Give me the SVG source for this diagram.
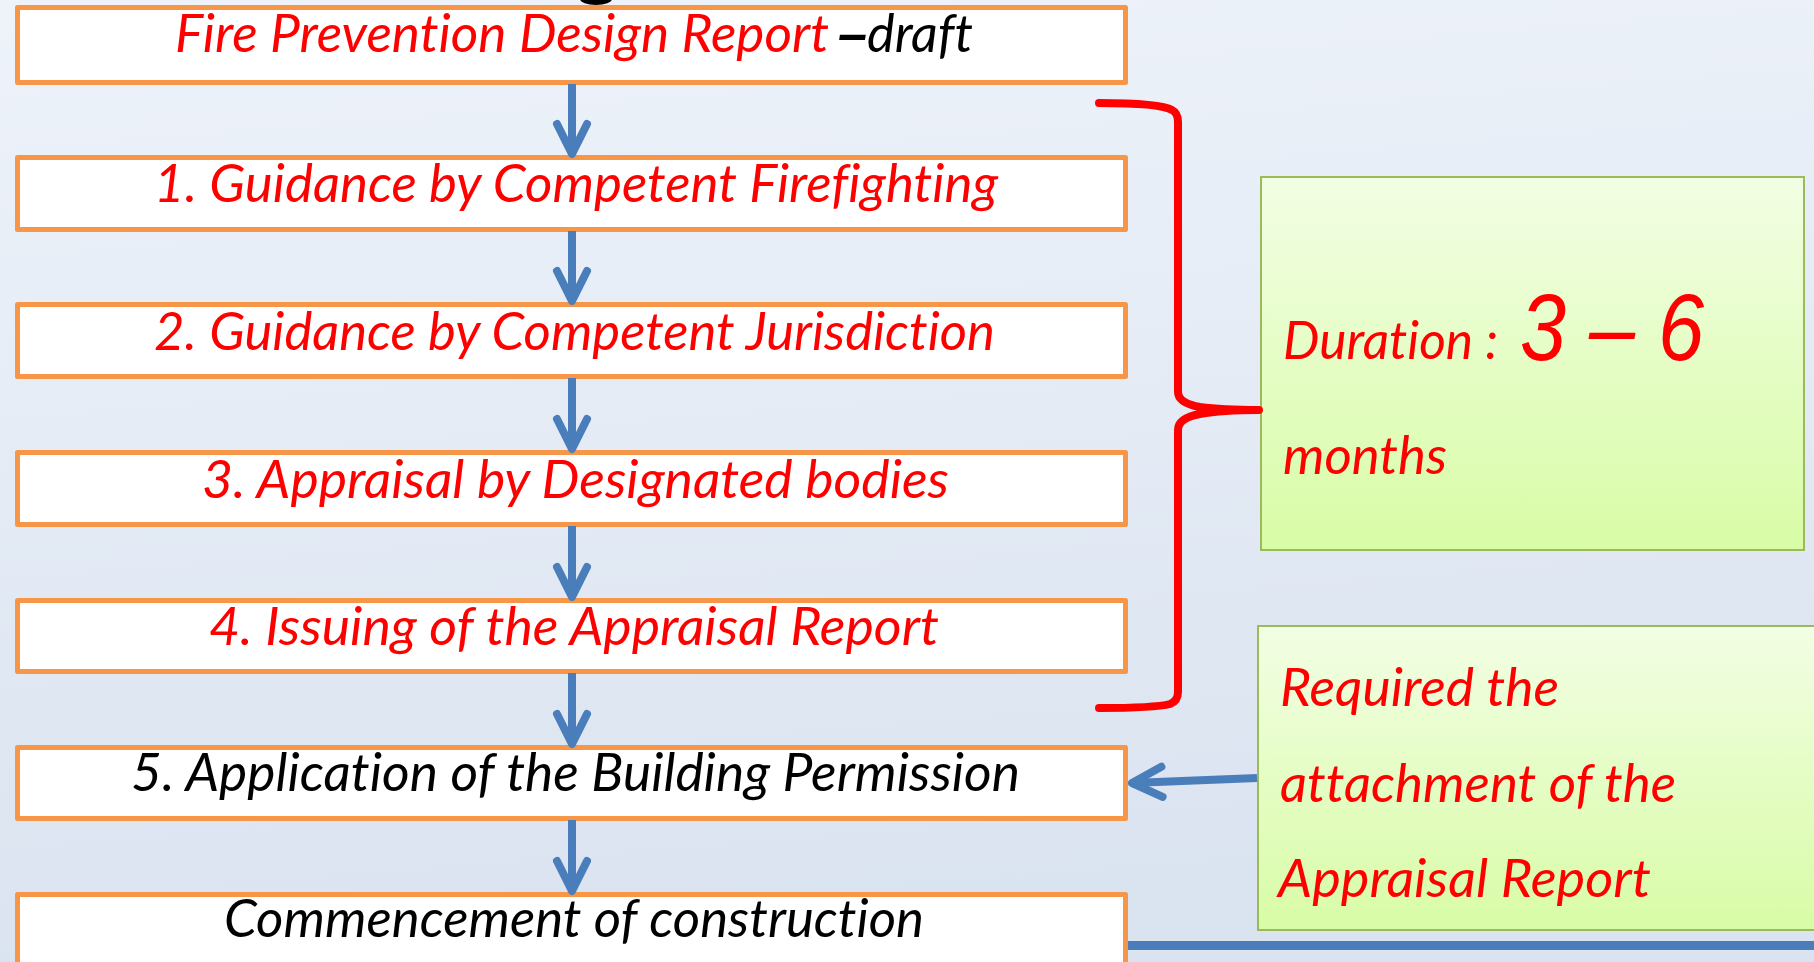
<svg xmlns="http://www.w3.org/2000/svg" width="1814" height="962" viewBox="0 0 1814 962">
  <defs>
    <linearGradient id="bg" x1="0" y1="0" x2="0.15" y2="1">
      <stop offset="0" stop-color="#EEF3FA"/>
      <stop offset="1" stop-color="#DAE3F0"/>
    </linearGradient>
    <linearGradient id="green" x1="0" y1="0" x2="0" y2="1">
      <stop offset="0" stop-color="#F2FEE4"/>
      <stop offset="1" stop-color="#D8FCA6"/>
    </linearGradient>
    <marker id="chev" viewBox="-40 -20 44 40" refX="0" refY="0" markerWidth="44" markerHeight="40" markerUnits="userSpaceOnUse" orient="auto" overflow="visible">
      <path d="M-30,-15 L0,0 L-30,15" fill="none" stroke="#4A7EBB" stroke-width="8" stroke-linecap="round" stroke-linejoin="round"/>
    </marker>
  </defs>
  <style>
    .box { fill: #FFFFFF; stroke: #F79646; stroke-width: 5; stroke-linejoin: round; }
    .gbox { fill: url(#green); stroke: #9BBB59; stroke-width: 2; }
    .t { font-family: Lato, "Liberation Sans", sans-serif; font-style: italic; font-size: 53px; font-variant-ligatures: none; font-feature-settings: "liga" 0, "dlig" 0; }
    .dash { font-family: "Liberation Sans", Arial, sans-serif; font-weight: bold; }
    .big { font-family: "Liberation Sans", Arial, sans-serif; font-style: italic; font-size: 95px; }
    .red { fill: #FF0000; }
    .blk { fill: #000000; }
    .arrow { fill: none; stroke: #4A7EBB; stroke-width: 8; marker-end: url(#chev); }
    .brace { fill: none; stroke: #FF0000; stroke-width: 8; stroke-linecap: round; stroke-linejoin: round; }
  </style>

  <rect x="0" y="0" width="1814" height="962" fill="url(#bg)"/>
  <ellipse cx="596" cy="-1" rx="16" ry="6" fill="#000000"/>

  <g id="node-draft">
    <rect class="box" x="17.5" y="7.5" width="1108" height="75"/>
    <text class="t red" x="175" y="52" textLength="654" lengthAdjust="spacingAndGlyphs">Fire Prevention Design Report</text>
    <text class="t blk" x="838" y="52" textLength="135" lengthAdjust="spacingAndGlyphs"><tspan class="dash">–</tspan>draft</text>
  </g>
  <g id="node-step1">
    <rect class="box" x="17.5" y="157.5" width="1108" height="72"/>
    <text class="t red" x="154" y="202" textLength="844" lengthAdjust="spacingAndGlyphs">1. Guidance by Competent Firefighting</text>
  </g>
  <g id="node-step2">
    <rect class="box" x="17.5" y="304.5" width="1108" height="72"/>
    <text class="t red" x="154" y="350" textLength="841" lengthAdjust="spacingAndGlyphs">2. Guidance by Competent Jurisdiction</text>
  </g>
  <g id="node-step3">
    <rect class="box" x="17.5" y="452.5" width="1108" height="72"/>
    <text class="t red" x="202" y="498" textLength="747" lengthAdjust="spacingAndGlyphs">3. Appraisal by Designated bodies</text>
  </g>
  <g id="node-step4">
    <rect class="box" x="17.5" y="600.5" width="1108" height="71"/>
    <text class="t red" x="209" y="645" textLength="730" lengthAdjust="spacingAndGlyphs">4. Issuing of the Appraisal Report</text>
  </g>
  <g id="node-step5">
    <rect class="box" x="17.5" y="747.5" width="1108" height="71"/>
    <text class="t blk" x="131" y="791" textLength="889" lengthAdjust="spacingAndGlyphs">5. Application of the Building Permission</text>
  </g>
  <g id="node-commence">
    <rect class="box" x="17.5" y="894.5" width="1108" height="100"/>
    <text class="t blk" x="224" y="937" textLength="700" lengthAdjust="spacingAndGlyphs">Commencement of construction</text>
  </g>

  <g id="node-duration">
    <rect class="gbox" x="1261" y="177" width="543" height="373"/>
    <text class="t red" x="1283" y="359" style="font-size:52px" textLength="215" lengthAdjust="spacingAndGlyphs">Duration :</text>
    <text class="big red" x="1520" y="360" textLength="184" lengthAdjust="spacingAndGlyphs">3 – 6</text>
    <text class="t red" x="1283" y="474" textLength="164" lengthAdjust="spacingAndGlyphs">months</text>
  </g>
  <g id="node-required">
    <rect class="gbox" x="1258" y="626" width="600" height="304"/>
    <text class="t red" x="1280" y="706" textLength="279" lengthAdjust="spacingAndGlyphs">Required the</text>
    <text class="t red" x="1280" y="802" textLength="396" lengthAdjust="spacingAndGlyphs">attachment of the</text>
    <text class="t red" x="1278" y="897" textLength="373" lengthAdjust="spacingAndGlyphs">Appraisal Report</text>
  </g>

  <g id="connectors">
    <line class="arrow" x1="572" y1="84" x2="572" y2="154"/>
    <line class="arrow" x1="572" y1="231" x2="572" y2="301"/>
    <line class="arrow" x1="572" y1="378" x2="572" y2="449"/>
    <line class="arrow" x1="572" y1="526" x2="572" y2="597"/>
    <line class="arrow" x1="572" y1="673" x2="572" y2="744"/>
    <line class="arrow" x1="572" y1="820" x2="572" y2="891"/>
    <line class="arrow" x1="1257" y1="778" x2="1132" y2="783"/>
    <path class="brace" d="M1099,103 Q1160,103 1172,110 Q1178,113 1178,122 L1178,392 Q1178,403 1200,407 Q1222,410 1259,410 Q1222,410 1200,414 Q1178,418 1178,430 L1178,692 Q1178,701 1170,704 Q1155,708 1099,708"/>
    <line x1="1128" y1="945.5" x2="1814" y2="945.5" stroke="#4A7EBB" stroke-width="9"/>
  </g>
</svg>
